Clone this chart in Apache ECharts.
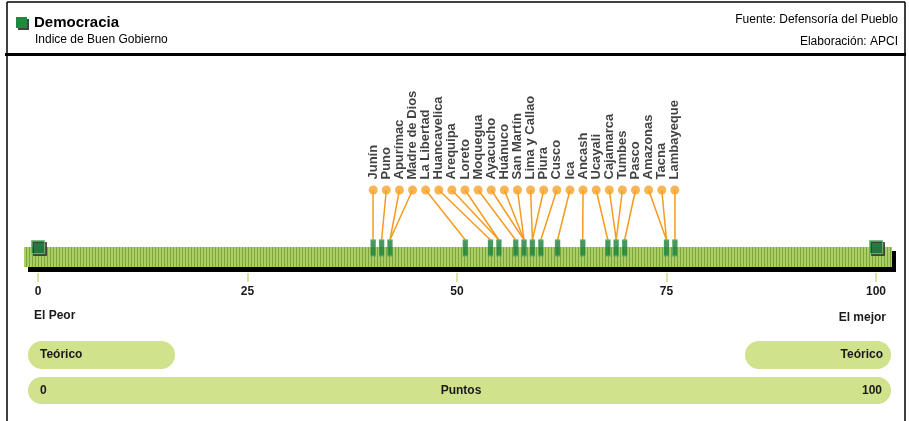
<!DOCTYPE html>
<html><head><meta charset="utf-8">
<script src="https://cdn.jsdelivr.net/npm/echarts@6/dist/echarts.min.js"></script>
<style>html,body{margin:0;padding:0;background:#fff}#c{width:909px;height:421px}</style>
</head><body><div id="c"></div>
<script>
// ---- data ----
const regions = ['Junín','Puno','Apurímac','Madre de Dios','La Libertad','Huancavelica','Arequipa','Loreto','Moquegua','Ayacucho','Huánuco','San Martín','Lima y Callao','Piura','Cusco','Ica','Ancash','Ucayali','Cajamarca','Tumbes','Pasco','Amazonas','Tacna','Lambayeque'];
const scores = [40,41,42,42,51,54,55,55,57,58,58,58,59,59,60,62,65,68,69,69,70,75,75,76];
const scaleEnds = [0,100];
const tickValues = [0,25,50,75,100];
const titleText = 'Democracia';
const subtitleText = 'Indice de Buen Gobierno';
const sourceText = 'Fuente: Defensoría del Pueblo';
const authorText = 'Elaboración: APCI';

// ---- layout (y in px above axis line) ----
const Y_DOT = 83, Y_MARK = 25, Y_MARK_TOP = 33, Y_END = 26;
const FONT = '"Liberation Sans", Arial, sans-serif';

const n = regions.length;
const lo = Math.min(...scores), hi = Math.max(...scores);
const dotX = regions.map((r,i)=> lo + i*(hi-lo)/(n-1));

const uniqueScores = [...new Set(scores)];

// stripe pattern
const pc = document.createElement('canvas');
pc.width = 3; pc.height = 4;
const pctx = pc.getContext('2d');
pctx.fillStyle = '#abcf66'; pctx.fillRect(0,0,3,4);
pctx.fillStyle = '#79a636'; pctx.fillRect(2,0,1,4);

const chart = echarts.init(document.getElementById('c'), null, {renderer:'canvas'});
const PILL = '#d0e28c';
chart.setOption({
  animation:false,
  grid:{left:38, right:33, top:60, bottom:148},
  xAxis:{type:'value', min:0, max:100, interval:25,
    axisLine:{show:false}, splitLine:{show:false},
    axisTick:{show:true, length:9, lineStyle:{color:'#d6e6a2', width:2}},
    axisLabel:{margin:13, color:'#1a1a1a', fontWeight:'bold', fontSize:12, fontFamily:FONT,
      formatter:v=> tickValues.includes(v)? String(v):''}},
  yAxis:{type:'value', min:0, max:213, show:false},
  graphic:[
    // frame
    {type:'line', shape:{x1:7,y1:2,x2:7,y2:421}, style:{stroke:'#000',lineWidth:1.5}, silent:true},
    {type:'line', shape:{x1:905,y1:2,x2:905,y2:421}, style:{stroke:'#000',lineWidth:1.5}, silent:true},
    {type:'line', shape:{x1:7,y1:2,x2:905,y2:2}, style:{stroke:'#000',lineWidth:1.5}, silent:true},
    {type:'rect', shape:{x:5,y:53,width:901,height:3}, style:{fill:'#000'}, silent:true},
    // header
    {type:'rect', shape:{x:18,y:19,width:11,height:11}, style:{fill:'#444'}, silent:true},
    {type:'rect', shape:{x:16,y:17,width:11,height:11}, style:{fill:'#1f8a3f'}, silent:true},
    {type:'text', style:{text:titleText, x:34, y:23, font:'bold 15px '+FONT, fill:'#000', align:'left', verticalAlign:'middle'}},
    {type:'text', style:{text:subtitleText, x:35, y:40, font:'12px '+FONT, fill:'#000', align:'left', verticalAlign:'middle'}},
    {type:'text', style:{text:sourceText, x:898, y:20, font:'12px '+FONT, fill:'#000', align:'right', verticalAlign:'middle'}},
    {type:'text', style:{text:authorText, x:898, y:42, font:'12px '+FONT, fill:'#000', align:'right', verticalAlign:'middle'}},
    // bar with shadow
    {type:'rect', z:-2, shape:{x:28,y:251,width:868,height:21}, style:{fill:'#000'}, silent:true},
    {type:'rect', z:-1, shape:{x:24,y:247,width:868,height:20}, style:{fill:{image:pc, repeat:'repeat'}}, silent:true},
    // under-axis labels
    {type:'text', style:{text:'El Peor', x:34, y:316, font:'bold 12px '+FONT, fill:'#1a1a1a', align:'left', verticalAlign:'middle'}},
    {type:'text', style:{text:'El mejor', x:886, y:318, font:'bold 12px '+FONT, fill:'#1a1a1a', align:'right', verticalAlign:'middle'}},
    // pills
    {type:'rect', shape:{x:28,y:341,width:147,height:28,r:14}, style:{fill:PILL}, silent:true},
    {type:'text', style:{text:'Teórico', x:40, y:355, font:'bold 12px '+FONT, fill:'#1a1a1a', align:'left', verticalAlign:'middle'}},
    {type:'rect', shape:{x:745,y:341,width:146,height:28,r:14}, style:{fill:PILL}, silent:true},
    {type:'text', style:{text:'Teórico', x:883, y:355, font:'bold 12px '+FONT, fill:'#1a1a1a', align:'right', verticalAlign:'middle'}},
    {type:'rect', shape:{x:28,y:377,width:863,height:27,r:13.5}, style:{fill:PILL}, silent:true},
    {type:'text', style:{text:'0', x:40, y:391, font:'bold 12px '+FONT, fill:'#1a1a1a', align:'left', verticalAlign:'middle'}},
    {type:'text', style:{text:'Puntos', x:461, y:391, font:'bold 12px '+FONT, fill:'#1a1a1a', align:'center', verticalAlign:'middle'}},
    {type:'text', style:{text:'100', x:882, y:391, font:'bold 12px '+FONT, fill:'#1a1a1a', align:'right', verticalAlign:'middle'}}
  ],
  series:[
    {type:'lines', coordinateSystem:'cartesian2d', z:2, silent:true,
      lineStyle:{color:'#f59b1f', width:1.5, opacity:1, curveness:0},
      data: regions.map((r,i)=>({coords:[[dotX[i], Y_DOT],[scores[i], Y_MARK_TOP]]}))},
    {type:'scatter', z:3, symbol:'rect', symbolSize:[5,16], silent:true,
      itemStyle:{color:'#1a7d3c', borderColor:'#5fae6a', borderWidth:0.8},
      data: uniqueScores.map(v=>[v, Y_MARK])},
    {type:'scatter', z:4, symbol:'circle', symbolSize:9, silent:true,
      itemStyle:{color:'#f7a328'},
      label:{show:true, position:'top', rotate:90, align:'left', verticalAlign:'middle', distance:6,
        color:'#111', fontWeight:'bold', fontSize:13, fontFamily:FONT,
        formatter:p=>regions[p.dataIndex]},
      data: regions.map((r,i)=>[dotX[i], Y_DOT])},
    {type:'scatter', z:3, symbol:'rect', symbolSize:13, silent:true,
      itemStyle:{color:'#1b7f3d', borderColor:'#6fbf77', borderWidth:1, shadowColor:'#333', shadowOffsetX:2, shadowOffsetY:2, shadowBlur:0},
      data: scaleEnds.map(v=>[v, Y_END])}
  ]
});
</script></body></html>
